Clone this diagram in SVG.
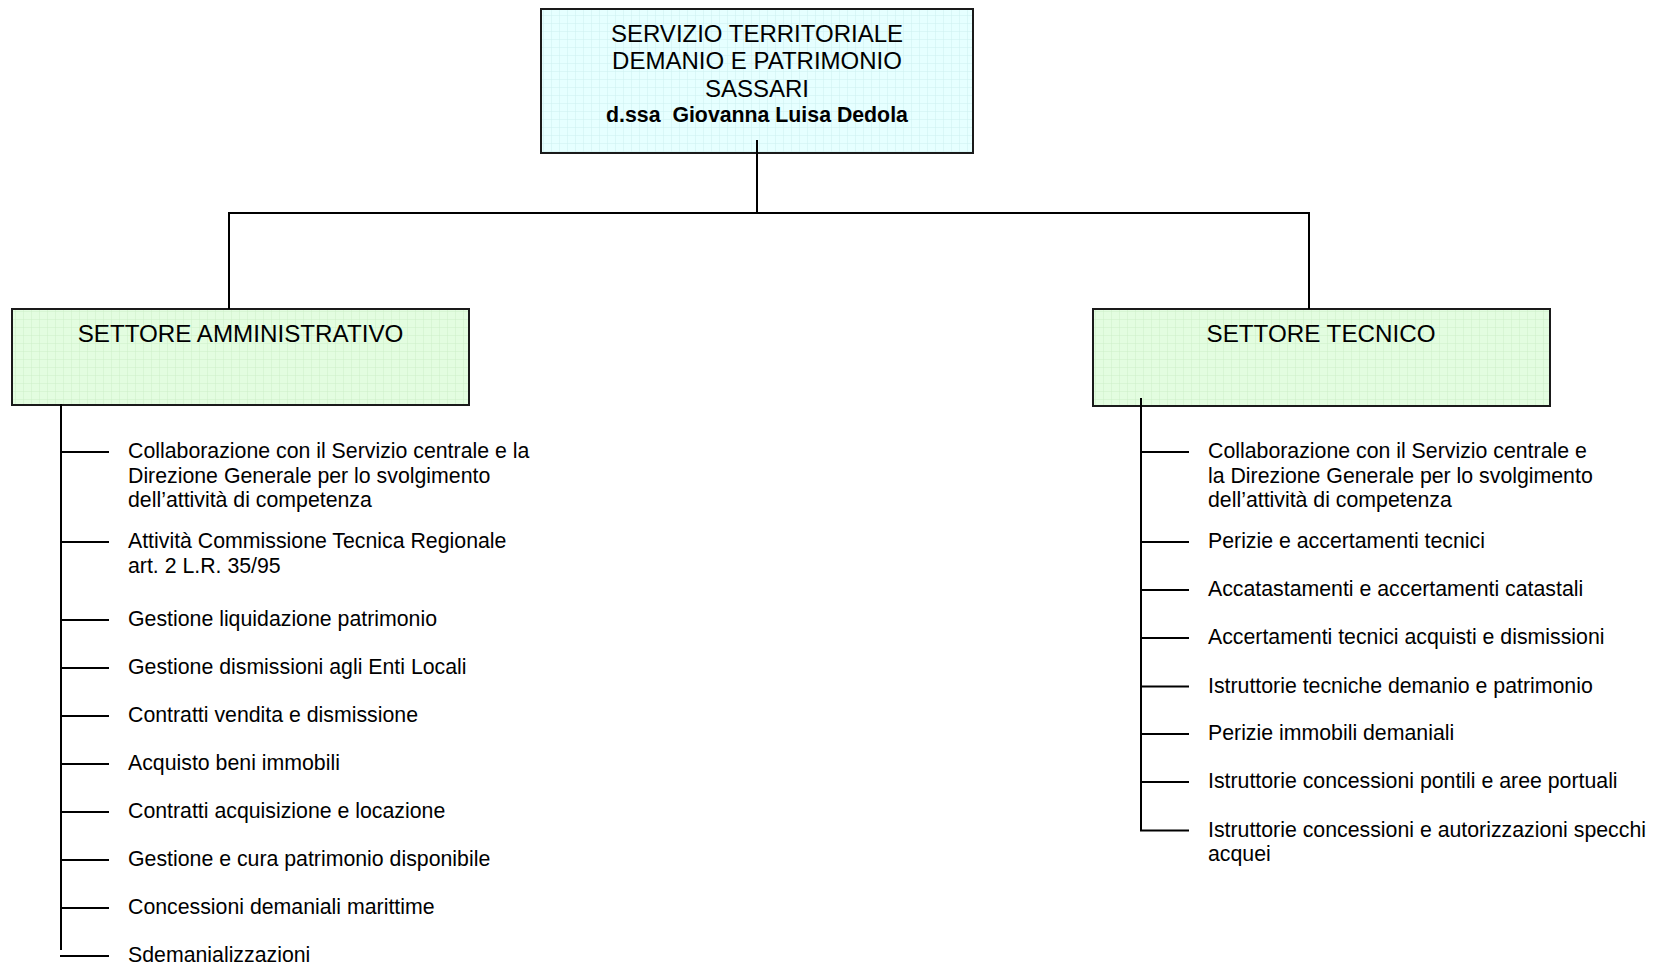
<svg xmlns="http://www.w3.org/2000/svg" width="1662" height="965" viewBox="0 0 1662 965">
<style>
.box{stroke:#1a1a1a;stroke-width:2}
.ln{stroke:#000;stroke-width:2;fill:none}
.t{font-family:"Liberation Sans",Arial,sans-serif;fill:#000}
.hd{font-size:24px}
.hb{font-size:21.3px;font-weight:bold}
.sec{font-size:24.2px}
.it{font-size:21.3px}
</style>
<defs>
<pattern id="gc" width="8" height="8" patternUnits="userSpaceOnUse">
<rect width="8" height="8" fill="#e6ffff"/>
<path d="M8 0V8M0 8H8" stroke="#cdf0f0" stroke-width="1"/>
</pattern>
<pattern id="gg" width="8" height="8" patternUnits="userSpaceOnUse">
<rect width="8" height="8" fill="#e3fde0"/>
<path d="M8 0V8M0 8H8" stroke="#cdefc9" stroke-width="1"/>
</pattern>
</defs>
<rect width="1662" height="965" fill="#fff"/>
<g id="node-servizio">
<rect class="box" x="541" y="9" width="432" height="144" fill="url(#gc)"/>
<text class="t hd" x="757" y="42" text-anchor="middle">SERVIZIO TERRITORIALE</text>
<text class="t hd" x="757" y="69" text-anchor="middle">DEMANIO E PATRIMONIO</text>
<text class="t hd" x="757" y="97" text-anchor="middle">SASSARI</text>
<text class="t hb" x="757" y="122" text-anchor="middle" xml:space="preserve">d.ssa  Giovanna Luisa Dedola</text>
</g>
<g id="node-amministrativo">
<rect class="box" x="12" y="309" width="457" height="96" fill="url(#gg)"/>
<text class="t sec" x="240.5" y="342" text-anchor="middle">SETTORE AMMINISTRATIVO</text>
</g>
<g id="node-tecnico">
<rect class="box" x="1093" y="309" width="457" height="97" fill="url(#gg)"/>
<text class="t sec" x="1321" y="342" text-anchor="middle">SETTORE TECNICO</text>
</g>
<g id="connectors">
<path class="ln" d="M757 140V213M229 309V213H1309V309"/>
<path class="ln" d="M61 404V950"/>
<path class="ln" d="M60 452H109M60 542H109M60 620H109M60 668H109M60 716H109M60 764H109M60 812H109M60 860H109M60 908H109M60 956H109"/>
<path class="ln" d="M1141 398V830.5H1189"/>
<path class="ln" d="M1141 452H1189M1141 542H1189M1141 590H1189M1141 638H1189M1141 686.5H1189M1141 734H1189M1141 782H1189"/>
</g>
<g id="items-amministrativo" class="t it">
<g id="a1"><text x="128" y="458">Collaborazione con il Servizio centrale e la</text><text x="128" y="482.5">Direzione Generale per lo svolgimento</text><text x="128" y="507">dell’attività di competenza</text></g>
<g id="a2"><text x="128" y="548">Attività Commissione Tecnica Regionale</text><text x="128" y="572.5">art. 2 L.R. 35/95</text></g>
<g id="a3"><text x="128" y="626">Gestione liquidazione patrimonio</text></g>
<g id="a4"><text x="128" y="674">Gestione dismissioni agli Enti Locali</text></g>
<g id="a5"><text x="128" y="722">Contratti vendita e dismissione</text></g>
<g id="a6"><text x="128" y="770">Acquisto beni immobili</text></g>
<g id="a7"><text x="128" y="818">Contratti acquisizione e locazione</text></g>
<g id="a8"><text x="128" y="866">Gestione e cura patrimonio disponibile</text></g>
<g id="a9"><text x="128" y="914">Concessioni demaniali marittime</text></g>
<g id="a10"><text x="128" y="962">Sdemanializzazioni</text></g>
</g>
<g id="items-tecnico" class="t it">
<g id="b1"><text x="1208" y="458">Collaborazione con il Servizio centrale e</text><text x="1208" y="482.5">la Direzione Generale per lo svolgimento</text><text x="1208" y="507">dell’attività di competenza</text></g>
<g id="b2"><text x="1208" y="548">Perizie e accertamenti tecnici</text></g>
<g id="b3"><text x="1208" y="596">Accatastamenti e accertamenti catastali</text></g>
<g id="b4"><text x="1208" y="644">Accertamenti tecnici acquisti e dismissioni</text></g>
<g id="b5"><text x="1208" y="692.5">Istruttorie tecniche demanio e patrimonio</text></g>
<g id="b6"><text x="1208" y="740">Perizie immobili demaniali</text></g>
<g id="b7"><text x="1208" y="788">Istruttorie concessioni pontili e aree portuali</text></g>
<g id="b8"><text x="1208" y="836.5">Istruttorie concessioni e autorizzazioni specchi</text><text x="1208" y="861">acquei</text></g>
</g>
</svg>
